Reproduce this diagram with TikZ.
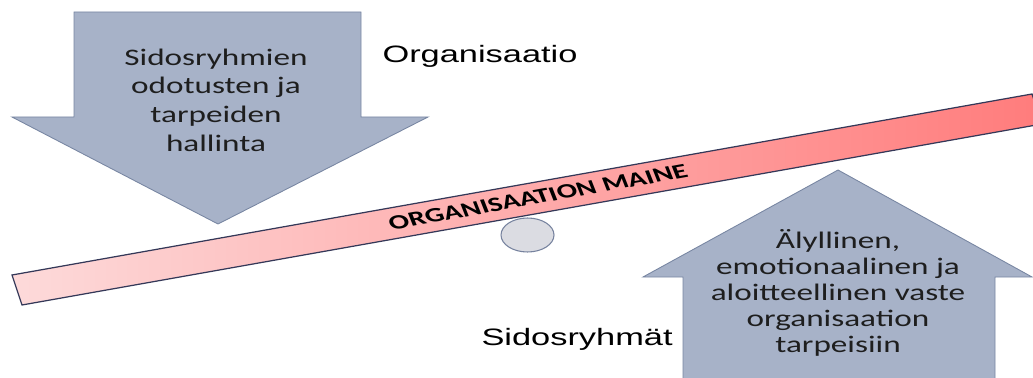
\documentclass[tikz,border=0pt]{standalone}
\usepackage{fontspec}
\newfontfamily\carlito{Carlito}
\newfontfamily\arialike{Liberation Sans}
\usetikzlibrary{calc}
\definecolor{arrowblue}{RGB}{167,178,200}
\definecolor{arrowline}{RGB}{120,134,162}
\definecolor{beamlight}{RGB}{253,218,218}
\definecolor{beamdark}{RGB}{255,124,124}
\definecolor{beamline}{RGB}{52,56,88}
\definecolor{pivotfill}{RGB}{219,220,226}
\definecolor{pivotline}{RGB}{118,130,158}
\definecolor{textgray}{RGB}{30,30,30}
\def\arrowfont{\carlito\fontsize{13.5}{16.3}\selectfont}

\begin{document}
\begin{tikzpicture}[x=0.02cm,y=-0.02cm]
		%%%%% START %%%%%
		\clip (0,0) rectangle (1033,378);
		
		% beam
		\draw[beamline, line width=0.7pt, left color=beamlight, right color=beamdark] (12,275) -- (1032,94) -- (1042,124) -- (22,305) -- cycle;
		\node[font=\carlito\bfseries\fontsize{11.6}{13}\selectfont, xscale=1.48, rotate=14.9] (maine) at (538,197) {ORGANISAATION MAINE};
		
		% pivot
		\draw[pivotline, fill=pivotfill, line width=0.6pt] (527.5,235) ellipse [x radius=26.5, y radius=17];
		
		% down arrow
		\draw[arrowline, fill=arrowblue, line width=0.5pt] (74,12) -- (361,12) -- (361,117) -- (428,117) -- (218,224) -- (12,117) -- (74,117) -- cycle;
		\node[font=\arrowfont, text=textgray, align=center, xscale=1.4] (demands) at (216,100) {Sidosryhmien\\odotusten ja\\tarpeiden\\hallinta};
		
		% up arrow
		\draw[arrowline, fill=arrowblue, line width=0.5pt] (683,390) -- (683,277) -- (643,277) -- (838,170) -- (1032,277) -- (995,277) -- (995,390);
		\node[font=\carlito\fontsize{13.5}{14.9}\selectfont, text=textgray, align=center, xscale=1.4] (response) at (838,293) {Älyllinen,\\emotionaalinen ja\\aloitteellinen vaste\\organisaation\\tarpeisiin};
		
		\node[font=\arialike\fontsize{13.5}{15}\selectfont, anchor=base west, inner sep=0, xscale=1.45] (org) at (382,63) {Organisaatio};
		\node[font=\arialike\fontsize{13.5}{15}\selectfont, anchor=base west, inner sep=0, xscale=1.45] (stake) at (481,345) {Sidosryhmät};
		
		%%%%% END %%%%%
	\end{tikzpicture}
\end{document}
